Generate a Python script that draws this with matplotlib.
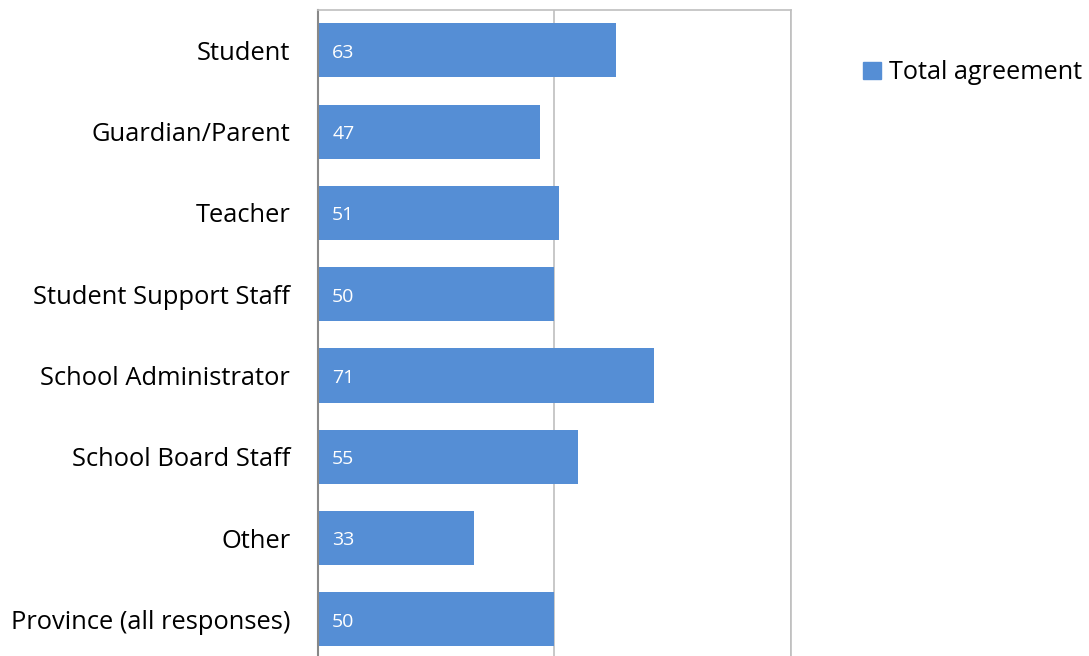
import numpy as np
import matplotlib.pyplot as plt
from matplotlib.patches import Patch

# categories and values (percent total agreement)
groups = ['Student', 'Guardian/Parent', 'Teacher', 'Student Support Staff',
          'School Administrator', 'School Board Staff', 'Other',
          'Province (all responses)']
agreement = [63, 47, 51, 50, 71, 55, 33, 50]

bar_color = '#558ED5'
plt.rcParams['font.family'] = ['Open Sans', 'DejaVu Sans']

fig = plt.figure(figsize=(10.89, 6.56), dpi=100)
ax = fig.add_axes([0.292, -0.006, 0.434, 0.991])

y = np.arange(len(groups))
ax.barh(y, agreement, height=0.665, color=bar_color, zorder=2)
for yi, v in zip(y, agreement):
    ax.text(3.0, yi + 0.03, str(v), color='white', fontsize=14, va='center', ha='left', zorder=3)

ax.set_xlim(0, 100)
ax.set_ylim(len(groups) - 0.5, -0.5)
ax.set_yticks(y)
ax.set_yticklabels(groups, fontsize=18.4)
ax.tick_params(axis='y', length=0, pad=20)
ax.set_xticks([0, 50, 100])
ax.tick_params(axis='x', length=0, labelbottom=False)
ax.grid(axis='x', color='#BFBFBF', linewidth=1.2, zorder=0)
ax.spines['left'].set_color('#888888')
ax.spines['left'].set_linewidth(1.5)
for s in ['top', 'right', 'bottom']:
    ax.spines[s].set_color('#BFBFBF')
    ax.spines[s].set_linewidth(1.2)

fig.legend(handles=[Patch(color=bar_color, label='Total agreement')],
           loc='center left', bbox_to_anchor=(0.772, 0.889), frameon=False,
           fontsize=18.2, handlelength=0.68, handleheight=0.68, handletextpad=0.33)

fig.savefig('out.png', dpi=100)
